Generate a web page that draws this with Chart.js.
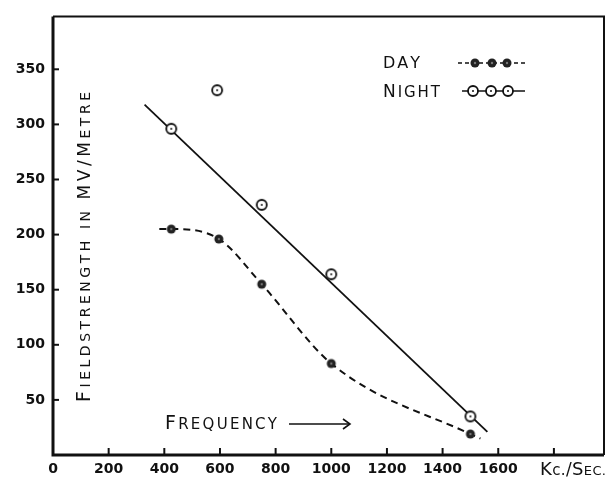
<!DOCTYPE html>
<html>
<head>
<meta charset="utf-8">
<script src="https://cdn.jsdelivr.net/npm/chart.js@4.4.1/dist/chart.umd.min.js"></script>
<style>
  html, body { margin: 0; padding: 0; background: #fff; }
</style>
</head>
<body>
<canvas id="chart" width="611" height="480"></canvas>
<script>
// fieldstrength (mV/metre) against frequency (kc/sec)
const nightFreq = [425, 590, 750, 1000, 1500];
const nightField = [296, 331, 227, 164, 35];
const nightLineFreq = [329, 1561];
const nightLineField = [318, 21];
const dayFreq = [382, 425, 596, 750, 1000, 1500, 1536];
const dayField = [205, 205, 196, 155, 83, 19, 15];
const dayMarked = [false, true, true, true, true, true, false];
const xTicks = [0, 200, 400, 600, 800, 1000, 1200, 1400, 1600, 1800];
const yTicks = [50, 100, 150, 200, 250, 300, 350];

const INK = '#111';
const FONT = '"DejaVu Sans", sans-serif';

// point markers, drawn once on small canvases
function makeMarker(kind) {
  const c = document.createElement('canvas');
  c.width = 14; c.height = 14;
  const g = c.getContext('2d');
  g.beginPath();
  if (kind === 'night') {
    g.arc(7, 7, 5, 0, Math.PI * 2);
    g.fillStyle = '#fff';
    g.fill();
    g.lineWidth = 1.8;
    g.strokeStyle = INK;
    g.stroke();
    g.beginPath();
    g.arc(7, 7, 1, 0, Math.PI * 2);
    g.fillStyle = INK;
    g.fill();
  } else {
    g.arc(7, 7, 4.5, 0, Math.PI * 2);
    g.fillStyle = '#222';
    g.fill();
    g.beginPath();
    g.arc(7, 7, 1.2, 0, Math.PI * 2);
    g.fillStyle = '#777';
    g.fill();
  }
  return c;
}
const nightMarker = makeMarker('night');
const dayMarker = makeMarker('day');

// draw text in "small caps" pieces, stretched to a given width
function drawCaps(ctx, parts, x, y, width) {
  const chars = [];
  parts.forEach(([text, size]) => {
    for (const ch of text) chars.push([ch, size]);
  });
  let natural = 0;
  chars.forEach(([ch, size]) => {
    ctx.font = size + 'px ' + FONT;
    natural += ctx.measureText(ch).width;
  });
  const gap = chars.length > 1 ? (width - natural) / (chars.length - 1) : 0;
  let cx = x;
  chars.forEach(([ch, size]) => {
    ctx.font = size + 'px ' + FONT;
    ctx.fillText(ch, cx, y);
    cx += ctx.measureText(ch).width + gap;
  });
}

const decorations = {
  id: 'decorations',
  beforeDatasetsDraw(chart) {
    const { ctx, chartArea: a, scales: { x, y } } = chart;
    ctx.save();
    ctx.strokeStyle = INK;
    // frame
    ctx.lineWidth = 2;
    ctx.beginPath();
    ctx.moveTo(a.left, a.top);
    ctx.lineTo(a.right, a.top);
    ctx.lineTo(a.right, a.bottom);
    ctx.stroke();
    ctx.lineWidth = 3;
    ctx.beginPath();
    ctx.moveTo(a.left, a.top);
    ctx.lineTo(a.left, a.bottom);
    ctx.lineTo(a.right, a.bottom);
    ctx.stroke();
    // inward tick marks
    ctx.lineWidth = 2;
    x.ticks.forEach(t => {
      if (t.value === 0) return;
      const px = x.getPixelForValue(t.value);
      ctx.beginPath();
      ctx.moveTo(px, a.bottom);
      ctx.lineTo(px, a.bottom - 7);
      ctx.stroke();
    });
    y.ticks.forEach(t => {
      const py = y.getPixelForValue(t.value);
      ctx.beginPath();
      ctx.moveTo(a.left, py);
      ctx.lineTo(a.left + 6, py);
      ctx.stroke();
    });
    ctx.restore();
  },
  afterDraw(chart) {
    const { ctx } = chart;
    ctx.save();
    ctx.fillStyle = INK;
    ctx.strokeStyle = INK;
    ctx.textBaseline = 'alphabetic';

    // y axis title, written upwards inside the plot
    ctx.save();
    ctx.translate(90, 402);
    ctx.rotate(-Math.PI / 2);
    drawCaps(ctx, [['F', 19], ['IELDSTRENGTH', 14], [' ', 14], ['IN', 14], [' ', 14],
      ['MV', 17], ['/', 17], ['M', 17], ['ETRE', 14]], 0, 0, 310);
    ctx.restore();

    // x axis note and arrow
    drawCaps(ctx, [['F', 19], ['REQUENCY', 15]], 165, 429, 112);
    ctx.lineWidth = 1.6;
    ctx.beginPath();
    ctx.moveTo(289, 424);
    ctx.lineTo(350, 424);
    ctx.stroke();
    ctx.beginPath();
    ctx.moveTo(343, 419);
    ctx.lineTo(350, 424);
    ctx.lineTo(343, 429);
    ctx.stroke();

    // unit label at the end of the x axis
    drawCaps(ctx, [['K', 18], ['c.', 15], ['/', 17], ['S', 18], ['EC.', 13]], 540, 475, 66);

    // legend
    drawCaps(ctx, [['DAY', 16]], 383, 68, 37);
    drawCaps(ctx, [['N', 17], ['IGHT', 15]], 383, 97, 57);
    ctx.lineWidth = 1.6;
    ctx.setLineDash([4, 3]);
    ctx.beginPath();
    ctx.moveTo(458, 63);
    ctx.lineTo(527, 63);
    ctx.stroke();
    ctx.setLineDash([]);
    ctx.beginPath();
    ctx.moveTo(462, 91);
    ctx.lineTo(525, 91);
    ctx.stroke();
    [475, 492, 507].forEach(px => ctx.drawImage(dayMarker, px - 7, 63 - 7));
    [473, 491, 508].forEach(px => ctx.drawImage(nightMarker, px - 7, 91 - 7));
    ctx.restore();
  }
};

const dayData = dayFreq.map((f, i) => ({ x: f, y: dayField[i] }));
const nightData = nightFreq.map((f, i) => ({ x: f, y: nightField[i] }));
const nightLine = nightLineFreq.map((f, i) => ({ x: f, y: nightLineField[i] }));

new Chart(document.getElementById('chart'), {
  type: 'scatter',
  data: {
    datasets: [
      {
        label: 'Night (fitted line)',
        data: nightLine,
        showLine: true,
        borderColor: INK,
        borderWidth: 1.8,
        pointRadius: 0,
        order: 3
      },
      {
        label: 'Day',
        data: dayData,
        showLine: true,
        borderColor: INK,
        borderWidth: 2,
        borderDash: [7, 5],
        cubicInterpolationMode: 'monotone',
        pointStyle: dayMarker,
        pointRadius: dayMarked.map(m => (m ? 5 : 0)),
        order: 2
      },
      {
        label: 'Night',
        data: nightData,
        showLine: false,
        pointStyle: nightMarker,
        pointRadius: 6,
        order: 1
      }
    ]
  },
  options: {
    responsive: false,
    animation: false,
    layout: { padding: { top: 13, right: 3, left: 0, bottom: 0 } },
    plugins: {
      legend: { display: false },
      tooltip: { enabled: false }
    },
    scales: {
      x: {
        type: 'linear',
        min: 0,
        max: 1980,
        afterFit: s => { s.height = 25; },
        afterBuildTicks: s => { s.ticks = xTicks.map(v => ({ value: v })); },
        grid: { display: false, drawTicks: false },
        border: { display: false },
        ticks: {
          padding: 6,
          color: INK,
          font: { family: FONT, size: 14, weight: 'bold' },
          maxRotation: 0,
          autoSkip: false,
          callback: v => (v === 1800 ? '' : String(v))
        }
      },
      y: {
        type: 'linear',
        min: 0,
        max: 398,
        afterFit: s => { s.width = 53; },
        afterBuildTicks: s => { s.ticks = yTicks.map(v => ({ value: v })); },
        grid: { display: false, drawTicks: false },
        border: { display: false },
        ticks: {
          padding: 8,
          color: INK,
          font: { family: FONT, size: 14, weight: 'bold' },
          autoSkip: false,
          callback: v => String(v)
        }
      }
    }
  },
  plugins: [decorations]
});
</script>
</body>
</html>
